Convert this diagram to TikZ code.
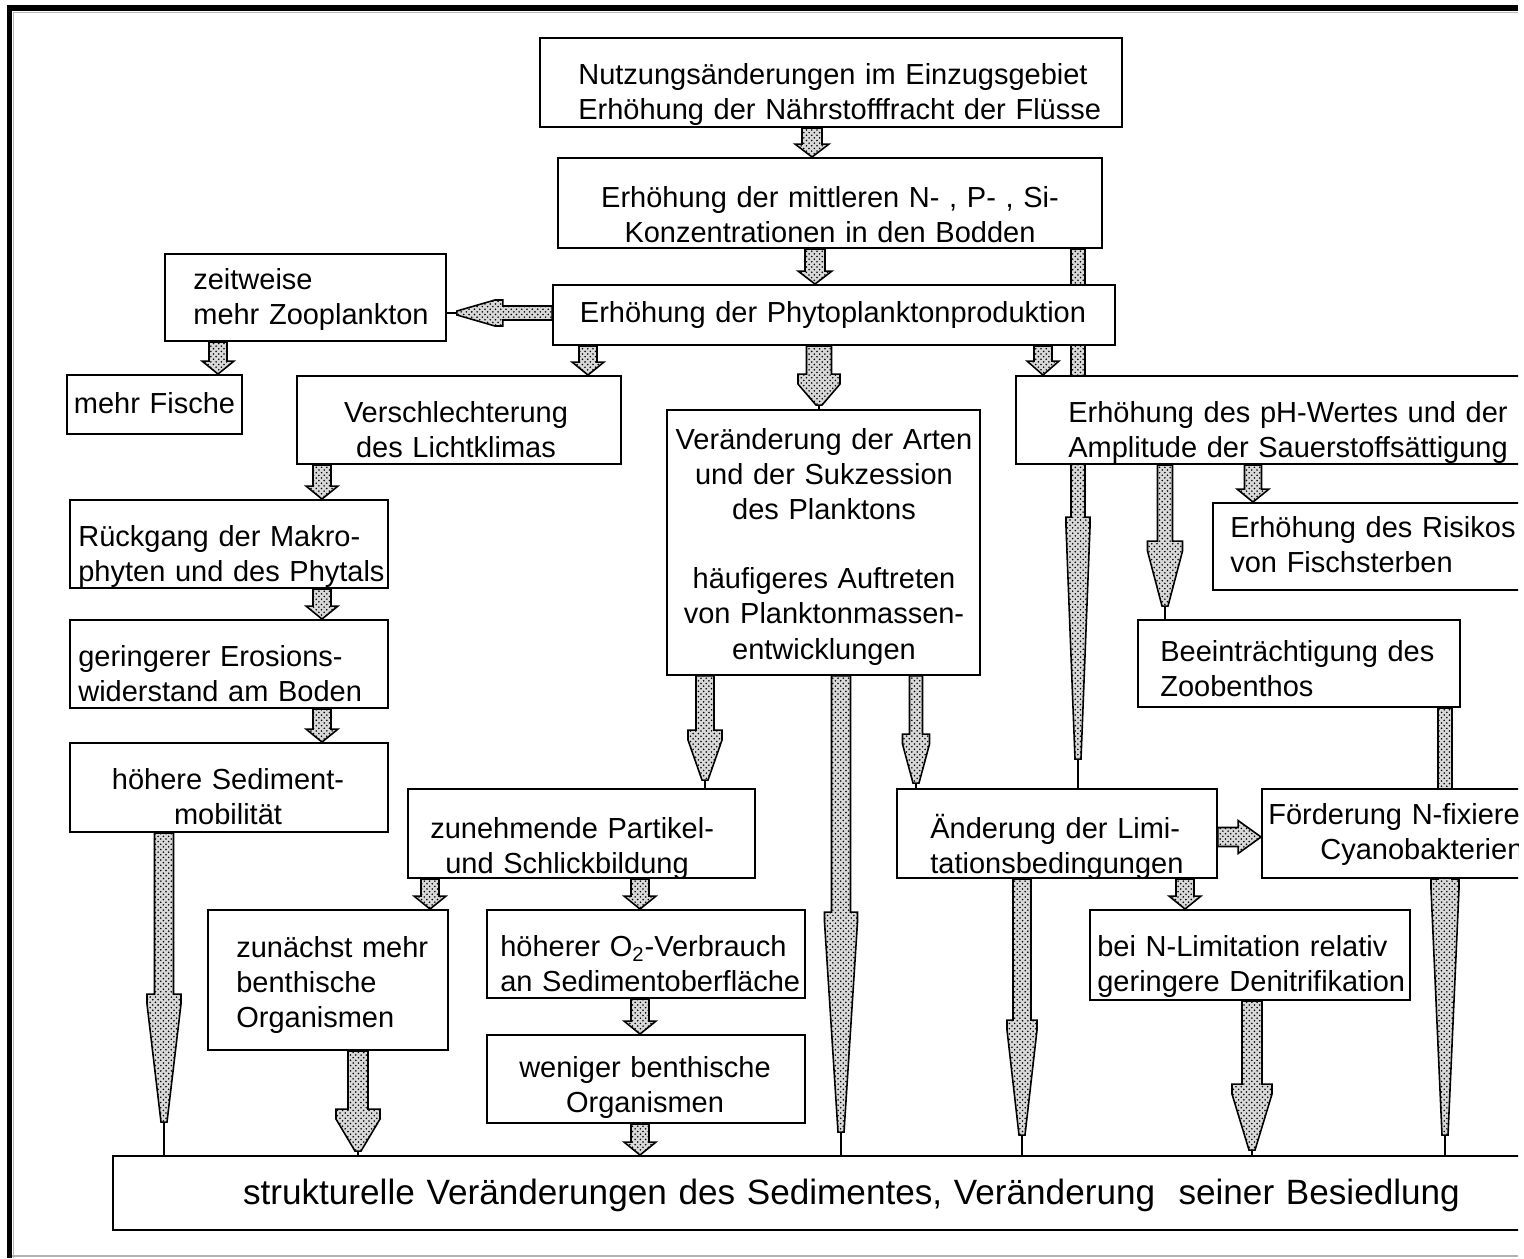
\documentclass[tikz,border=0pt]{standalone}
\usepackage{fontspec}
\setmainfont{Liberation Sans}
\usetikzlibrary{calc,patterns}
\pgfdeclarelayer{bg}
\pgfsetlayers{bg,main}
\tikzset{
  box/.style={draw=black, line width=1.1pt, fill=white, inner sep=0pt},
  ctext/.style={inner sep=0pt, anchor=base, text width=14cm, align=center,
    font=\fontsize{16.5}{20}\selectfont},
  ltext/.style={inner sep=0pt, anchor=base west, text width=14cm, align=left,
    font=\fontsize{16.5}{20}\selectfont},
  arrowbody/.style={draw=black, line width=0.9pt, line join=miter,
    preaction={fill=gray!30}, pattern=crosshatch dots, pattern color=black},
  arrowline/.style={draw=black, line width=0.9pt},
}
% vertical block arrow: x, from, to, shaft half width, head half width, head length
\newcommand\blockdown[6]{%
  \coordinate (s) at (#1,0 |- #2);
  \coordinate (e) at (#1,0 |- #3);
  \path[arrowbody] ($(s)+(-#4,0)$) -- ($(e)+(-#4,-#6)$) -- ($(e)+(-#5,-#6)$) -- (e)
    -- ($(e)+(#5,-#6)$) -- ($(e)+(#4,-#6)$) -- ($(s)+(#4,0)$) -- cycle;}
% vertical tapered arrow: x, from, to, w, H, L, tip half width, stem
\newcommand\taperdown[8]{%
  \coordinate (s) at (#1,0 |- #2);
  \coordinate (e) at (#1,0 |- #3);
  \path[arrowbody] ($(s)+(-#4,0)$) -- ($(e)+(-#4,-#6)$) -- ($(e)+(-#5,-#6)$)
    -- ($(e)+(-#5,-#6+10)$) -- ($(e)+(-#7,-#8)$) -- ($(e)+(#7,-#8)$)
    -- ($(e)+(#5,-#6+10)$) -- ($(e)+(#5,-#6)$) -- ($(e)+(#4,-#6)$) -- ($(s)+(#4,0)$) -- cycle;
  \draw[arrowline] ($(e)+(0,-#8)$) -- (e);}
% horizontal tapered arrow pointing left: y, from, to, w, H, L, t, stem
\newcommand\taperleft[8]{%
  \coordinate (s) at (#2 |- 0,#1);
  \coordinate (e) at (#3 |- 0,#1);
  \path[arrowbody] ($(s)+(0,-#4)$) -- ($(e)+(#6,-#4)$) -- ($(e)+(#6,-#5)$)
    -- ($(e)+(#6-8,-#5)$) -- ($(e)+(#8,-#7)$) -- ($(e)+(#8,#7)$)
    -- ($(e)+(#6-8,#5)$) -- ($(e)+(#6,#5)$) -- ($(e)+(#6,#4)$) -- ($(s)+(0,#4)$) -- cycle;
  \draw[arrowline] ($(e)+(#8,0)$) -- (e);}
% horizontal block arrow pointing right: y, from, to, w, H, L
\newcommand\blockright[6]{%
  \coordinate (s) at (#2 |- 0,#1);
  \coordinate (e) at (#3 |- 0,#1);
  \path[arrowbody] ($(s)+(0,-#4)$) -- ($(e)+(-#6,-#4)$) -- ($(e)+(-#6,-#5)$) -- (e)
    -- ($(e)+(-#6,#5)$) -- ($(e)+(-#6,#4)$) -- ($(s)+(0,#4)$) -- cycle;}
\begin{document}
\begin{tikzpicture}[x=0.02cm, y=-0.02cm]
\useasboundingbox (0,0) rectangle (1524,1258);
\begin{scope}
\clip (0,0) rectangle (1518,1258);
% frame
\draw[gray!55, line width=1pt] (13.5,1258) -- (13.5,12.5) -- (1518,12.5);
\draw[gray!60, line width=1pt] (12,1256) -- (1518,1256);
\draw[line width=0.12cm] (9.5,1258) -- (9.5,8) -- (1518,8);

% boxes
\node[box, minimum width=11.64cm, minimum height=1.78cm] (n1) at (831,82.5) {};
\node[box, minimum width=10.88cm, minimum height=1.80cm] (n2) at (830,203) {};
\node[box, minimum width=5.62cm, minimum height=1.74cm] (n3) at (305.5,297.5) {};
\node[box, minimum width=11.24cm, minimum height=1.20cm] (n4) at (834,315) {};
\node[box, minimum width=3.50cm, minimum height=1.18cm] (n5) at (154.5,404.5) {};
\node[box, minimum width=6.48cm, minimum height=1.76cm] (n6) at (459,420) {};
\node[box, minimum width=6.26cm, minimum height=5.30cm] (n7) at (823.5,542.5) {};
\node[box, minimum width=10.88cm, minimum height=1.76cm] (n8) at (1288,420) {};
\node[box, minimum width=6.36cm, minimum height=1.76cm] (n9) at (229,544) {};
\node[box, minimum width=6.64cm, minimum height=1.74cm] (n10) at (1379,546.5) {};
\node[box, minimum width=6.36cm, minimum height=1.76cm] (n11) at (229,664) {};
\node[box, minimum width=6.44cm, minimum height=1.74cm] (n12) at (1299,663.5) {};
\node[box, minimum width=6.36cm, minimum height=1.78cm] (n13) at (229,787.5) {};
\node[box, minimum width=6.94cm, minimum height=1.78cm] (n14) at (581.5,833.5) {};
\node[box, minimum width=6.40cm, minimum height=1.78cm] (n15) at (1057,833.5) {};
\node[box, minimum width=5.96cm, minimum height=1.78cm] (n16) at (1411,833.5) {};
\node[box, minimum width=4.80cm, minimum height=2.80cm] (n17) at (328,980) {};
\node[box, minimum width=6.36cm, minimum height=1.76cm] (n18) at (646,954) {};
\node[box, minimum width=6.40cm, minimum height=1.80cm] (n19) at (1250,955) {};
\node[box, minimum width=6.36cm, minimum height=1.76cm] (n20) at (646,1079) {};
\node[box, minimum width=29.54cm, minimum height=1.48cm] (n21) at (851.5,1193) {};

% texts (first-line baselines)
\node[ltext] (t1) at (578,84.5) {Nutzungsänderungen im Einzugsgebiet\\Erhöhung der Nährstofffracht der Flüsse};
\node[ctext] (t2) at (830,207.5) {Erhöhung der mittleren N- , P- , Si-\\Konzentrationen in den Bodden};
\node[ltext] (t3) at (193,289.5) {zeitweise\\mehr Zooplankton};
\node[ctext] (t4) at (833,322.5) {Erhöhung der Phytoplanktonproduktion};
\node[ctext] (t5) at (154.5,413.5) {mehr Fische};
\node[ctext] (t6) at (456,422.5) {Verschlechterung\\des Lichtklimas};
\node[ctext] (t7) at (824,449.5) {Veränderung der Arten\\und der Sukzession\\des Planktons\\[19.3pt]häufigeres Auftreten\\von Planktonmassen-\\entwicklungen};
\node[ctext] (t8) at (1288,422.5) {Erhöhung des pH-Wertes und der\\Amplitude der Sauerstoffsättigung};
\node[ltext] (t9) at (78,546.5) {Rückgang der Makro-\\phyten und des Phytals};
\node[ltext] (t10) at (1230,537.5) {Erhöhung des Risikos\\von Fischsterben};
\node[ltext] (t11) at (78,666.5) {geringerer Erosions-\\widerstand am Boden};
\node[ltext] (t12) at (1160,661.5) {Beeinträchtigung des\\Zoobenthos};
\node[ctext] (t13) at (228,789.5) {höhere Sediment-\\mobilität};
\node[ltext] (t14) at (430,838.5) {zunehmende Partikel-\\\hspace*{0.3cm}und Schlickbildung};
\node[ltext] (t15) at (930,838.5) {Änderung der Limi-\\tationsbedingungen};
\node[ltext] (t16) at (1268,824.5) {Förderung N-fixierender\\\hspace*{1.04cm}Cyanobakterien};
\node[ltext] (t17) at (236,957.5) {zunächst mehr\\benthische\\Organismen};
\node[ltext] (t18) at (500,956.5) {höherer O\textsubscript{2}-Verbrauch\\an Sedimentoberfläche};
\node[ltext] (t19) at (1097,956.5) {bei N-Limitation relativ\\geringere Denitrifikation};
\node[ctext] (t20) at (645,1077.5) {weniger benthische\\Organismen};
\node[ctext, font=\fontsize{20}{24}\selectfont, text width=28cm] (t21) at (851.5,1204.5)
  {strukturelle Veränderungen des Sedimentes, Veränderung\ \ seiner Besiedlung};
\end{scope}

% arrows (behind the boxes)
\begin{pgfonlayer}{bg}
\fill[white] (0,0) rectangle (1524,1258);
\blockdown{812}{n1.south}{n2.north}{10}{17}{13}
\blockdown{815}{n2.south}{n4.north}{10}{17}{13}
\taperdown{1078}{n2.south}{n15.north}{7}{12}{271}{3}{29}
\taperleft{313}{n4.west}{n3.east}{7}{13}{56}{2}{10}
\blockdown{218}{n3.south}{n5.north}{9}{16}{13}
\blockdown{588}{n4.south}{n6.north}{9}{16}{13}
\taperdown{819}{n4.south}{n7.north}{12.5}{21}{35}{3}{4}
\blockdown{1043}{n4.south}{n8.north}{9}{16}{14}
\blockdown{322}{n6.south}{n9.north}{9}{16}{13}
\blockdown{322}{n9.south}{n11.north}{9}{16}{13}
\blockdown{322}{n11.south}{n13.north}{9}{16}{13}
\taperdown{164}{n13.south}{n21.north}{9.5}{17}{161}{3}{33}
\taperdown{705}{n7.south}{n14.north}{9}{17}{58}{3}{8}
\taperdown{841}{n7.south}{n21.north}{9.5}{16.5}{243}{3}{23}
\taperdown{916}{n7.south}{n15.north}{6.5}{13.5}{54}{3}{5}
\taperdown{1165}{n8.south}{n12.north}{7.5}{17.5}{78}{3}{13}
\blockdown{1253}{n8.south}{n10.north}{8.5}{16}{13}
\taperdown{1445}{n12.south}{n21.north}{7}{14}{276}{3}{20}
\blockdown{430}{n14.south}{n17.north}{9}{16}{13}
\blockdown{640}{n14.south}{n18.north}{9}{16}{13}
\blockdown{640}{n18.south}{n20.north}{9}{16}{13}
\blockdown{640}{n20.south}{n21.north}{9}{16}{13}
\taperdown{358}{n17.south}{n21.north}{10}{22}{46}{3}{4}
\taperdown{1022}{n15.south}{n21.north}{9}{15}{135}{3}{20}
\blockdown{1185}{n15.south}{n19.north}{9}{16}{13}
\blockright{837}{n15.east}{n16.west}{9.5}{16.5}{23}
\taperdown{1252}{n19.south}{n21.north}{10}{20}{71}{3}{5}
\end{pgfonlayer}
\end{tikzpicture}
\end{document}
